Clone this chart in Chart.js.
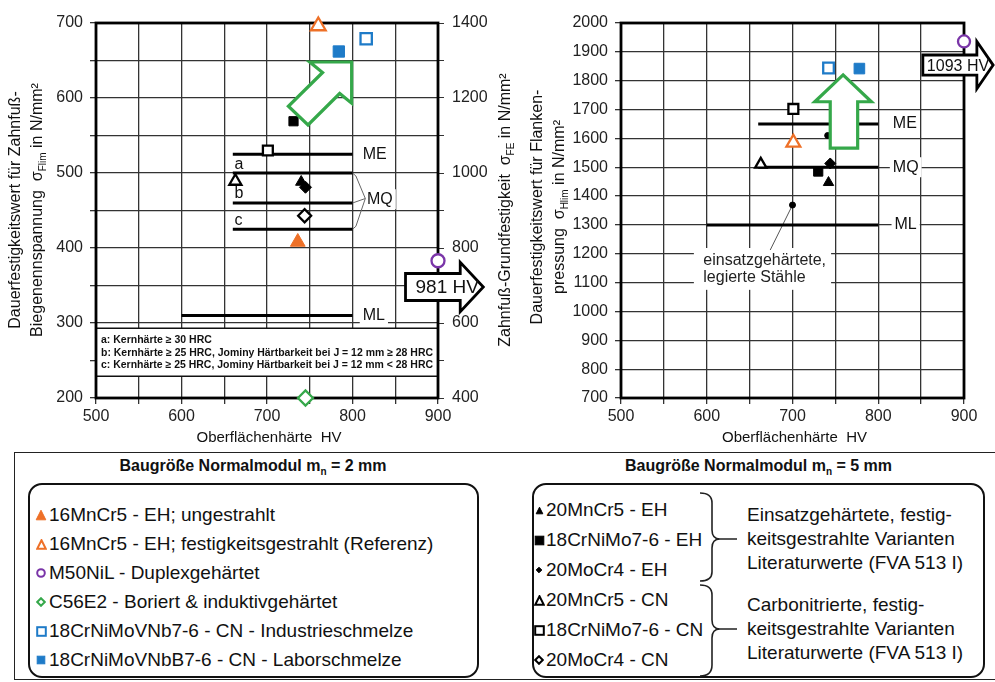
<!DOCTYPE html>
<html>
<head>
<meta charset="utf-8">
<script src="https://cdn.jsdelivr.net/npm/chart.js@4.4.1/dist/chart.umd.min.js"></script>
<style>
  body { margin: 0; background: #fff; width: 995px; height: 682px; overflow: hidden; position: relative;
         font-family: "Liberation Sans", Arial, sans-serif; color: #111; }
  canvas { position: absolute; top: 0; }
  #cFoot { left: 0; }
  #cFlank { left: 520px; }
  .box { position: absolute; box-sizing: border-box; }
  .outer { left: 14px; top: 452px; width: 1000px; height: 228px; border: 1.5px solid #222; }
  .inner { top: 483px; height: 195px; border: 2.5px solid #111; border-radius: 14px; }
  .hdr { position: absolute; top: 457px; font-weight: bold; font-size: 16px; text-align: center; }
  .hdr sub { font-size: 10px; }
  .item { position: absolute; font-size: 19px; line-height: 20px; white-space: nowrap; }
  .mk { position: absolute; }
  .mk svg { display: block; }
  .desc { position: absolute; font-size: 19px; line-height: 24px; white-space: nowrap; }
</style>
</head>
<body>
<canvas id="cFoot" width="520" height="450"></canvas>
<canvas id="cFlank" width="475" height="450"></canvas>
<div id="legend"></div>
<script>
// =============================================
// DATA
// =============================================
const materials = [
  '16MnCr5 - EH; ungestrahlt',
  '16MnCr5 - EH; festigkeitsgestrahlt (Referenz)',
  'M50NiL - Duplexgehärtet',
  'C56E2 - Boriert & induktivgehärtet',
  '18CrNiMoVNb7-6 - CN - Industrieschmelze',
  '18CrNiMoVNbB7-6 - CN - Laborschmelze',
  '20MnCr5 - EH',
  '18CrNiMo7-6 - EH',
  '20MoCr4 - EH',
  '20MnCr5 - CN',
  '18CrNiMo7-6 - CN',
  '20MoCr4 - CN'
];
// Zahnfuß (left chart)
const hvFoot    = [736, 760, 900, 745, 816, 784, 740, 731, 745, 663, 701, 744];
const sigmaFlim = [408, 696, 383, 200, 679, 662, 488, 569, 481, 489, 530, 443];
// Flanke (right chart)
const hvFlank   = [null, 701, 900, null, 742, 778, 742, 730, 744, 663, 701, null];
const sigmaHlim = [null, 1585, 1936, null, 1844, 1842, 1447, 1485, 1513, 1510, 1702, null];
// Literaturpunkte einsatzgehärtete, legierte Stähle
const litHv   = [700, 741];
const litHlim = [1369, 1610];

// Werkstoffqualitäten (Zahnfuß)
const footLineNames = ['ME', 'a', 'b', 'c', 'ML'];
const footLineY     = [525, 500, 460, 425, 310];
const footLineX0    = [660, 660, 660, 660, 600];
const footLineX1    = [800, 800, 800, 800, 800];
// Werkstoffqualitäten (Flanke)
const flankLineNames = ['ME', 'MQ', 'ML'];
const flankLineY     = [1650, 1500, 1300];
const flankLineX0    = [660, 660, 600];
const flankLineX1    = [800, 800, 800];

const footnotes = [
  'a: Kernhärte ≥ 30 HRC',
  'b: Kernhärte ≥ 25 HRC, Jominy Härtbarkeit bei J = 12 mm ≥ 28 HRC',
  'c: Kernhärte ≥ 25 HRC, Jominy Härtbarkeit bei J = 12 mm < 28 HRC'
];

// Pfeile (Datenkoordinaten)
const footArrowX = [862, 926, 953];      // Schaft links, Kopfbasis, Spitze
const footArrowY = [348, 18, 33];        // Mitte, halbe Schaftbreite, halbe Kopfbreite
const flankArrowX = [852, 915, 934];
const flankArrowY = [1854, 35, 82];
const footGreenX = [750, 799, 799, 785, 748, 725, 765];
const footGreenY = [648, 648, 593, 606, 564, 589, 634];
const flankGreenX = [759, 792, 776, 776, 744, 744, 726];
const flankGreenY = [1820, 1727, 1727, 1566, 1566, 1727, 1727];

// =============================================
// STYLES
// =============================================
const FONT = '"Liberation Sans", Arial, sans-serif';
const ORANGE = '#EE7027', BLUE = '#1E7BC8', PURPLE = '#7A35A8', GREEN = '#35A84A';
const mkShape  = ['triangle', 'triangle', 'circle', 'rectRot', 'rect', 'rect', 'triangle', 'rect', 'rectRot', 'triangle', 'rect', 'rectRot'];
const mkColor  = [ORANGE, ORANGE, PURPLE, GREEN, BLUE, BLUE, '#000', '#000', '#000', '#000', '#000', '#000'];
const mkFilled = [true, false, false, false, false, true, true, true, true, false, false, false];
const mkSizeL  = [8.5, 8.5, 6.5, 7.5, 8, 8, 6.5, 6.5, 6, 7, 7, 6.5];
const mkSizeR  = [8.5, 8, 6, 7, 7.5, 7.5, 6, 6.5, 5.5, 6.5, 7, 6];

function scatterSets(xs, ys, sizes) {
  const sets = [];
  materials.forEach((m, i) => {
    if (xs[i] == null) return;
    sets.push({
      label: m,
      data: [{ x: xs[i], y: ys[i] }],
      pointStyle: mkShape[i],
      pointRadius: sizes[i],
      pointBorderWidth: mkFilled[i] ? 1 : 2.3,
      pointBackgroundColor: mkFilled[i] ? mkColor[i] : '#fff',
      pointBorderColor: mkColor[i],
      clip: false,
      order: 1
    });
  });
  return sets;
}

function lineSets(y, x0, x1) {
  return y.map((v, i) => ({
    type: 'line',
    data: [{ x: x0[i], y: v }, { x: x1[i], y: v }],
    borderColor: '#000', borderWidth: 3, pointRadius: 0, order: 5
  }));
}

function axisX() {
  return {
    type: 'linear', min: 500, max: 900,
    ticks: { stepSize: 50, autoSkip: false, maxRotation: 0, padding: 3, color: '#222',
             font: { size: 16, family: FONT }, callback: v => v % 100 ? '' : String(v) },
    grid: { color: '#333', lineWidth: 1.3, tickLength: 6, tickColor: '#333' },
    border: { display: false },
    afterFit: s => { s.height = 52; }
  };
}

// =============================================
// DRAW HELPERS
// =============================================
function drawRich(ctx, parts, x, y, size, rot) {
  ctx.save();
  ctx.translate(x, y);
  ctx.rotate(rot);
  ctx.textBaseline = 'middle';
  ctx.textAlign = 'left';
  ctx.fillStyle = '#111';
  const fnt = p => (p[1] ? Math.round(size * 0.62) : size) + 'px ' + FONT;
  let total = 0;
  const ws = parts.map(p => { ctx.font = fnt(p); const w = ctx.measureText(p[0]).width; total += w; return w; });
  let cx = -total / 2;
  parts.forEach((p, i) => {
    ctx.font = fnt(p);
    ctx.fillText(p[0], cx, p[1] ? size * 0.3 : 0);
    cx += ws[i];
  });
  ctx.restore();
}

function labelBox(ctx, text, x, y, size) {
  ctx.font = size + 'px ' + FONT;
  const w = ctx.measureText(text).width;
  ctx.fillStyle = '#fff';
  ctx.fillRect(x - 3, y - size / 2 - 2, w + 6, size + 4);
  ctx.fillStyle = '#111';
  ctx.textAlign = 'left';
  ctx.textBaseline = 'middle';
  ctx.fillText(text, x, y);
}

function frame(ctx, a) {
  ctx.save();
  ctx.strokeStyle = '#000';
  ctx.lineWidth = 2.8;
  ctx.strokeRect(a.left, a.top, a.right - a.left, a.bottom - a.top);
  ctx.restore();
}

function hvArrow(ctx, sx, sy, ax, ay, text, size, dx) {
  const X = v => sx.getPixelForValue(v), Y = v => sy.getPixelForValue(v);
  ctx.save();
  ctx.beginPath();
  ctx.moveTo(X(ax[0]), Y(ay[0] + ay[1]));
  ctx.lineTo(X(ax[1]), Y(ay[0] + ay[1]));
  ctx.lineTo(X(ax[1]), Y(ay[0] + ay[2]));
  ctx.lineTo(X(ax[2]), Y(ay[0]));
  ctx.lineTo(X(ax[1]), Y(ay[0] - ay[2]));
  ctx.lineTo(X(ax[1]), Y(ay[0] - ay[1]));
  ctx.lineTo(X(ax[0]), Y(ay[0] - ay[1]));
  ctx.closePath();
  ctx.fillStyle = '#fff';
  ctx.fill();
  ctx.lineWidth = 2.8;
  ctx.strokeStyle = '#000';
  ctx.lineJoin = 'miter';
  ctx.stroke();
  ctx.fillStyle = '#111';
  ctx.font = size + 'px ' + FONT;
  ctx.textBaseline = 'middle';
  ctx.textAlign = 'left';
  ctx.fillText(text, X(ax[0]) + dx, Y(ay[0]) + 1);
  ctx.restore();
}

function greenArrow(ctx, sx, sy, xs, ys) {
  ctx.save();
  ctx.beginPath();
  xs.forEach((v, i) => {
    const px = sx.getPixelForValue(v), py = sy.getPixelForValue(ys[i]);
    i ? ctx.lineTo(px, py) : ctx.moveTo(px, py);
  });
  ctx.closePath();
  ctx.fillStyle = '#fff';
  ctx.fill();
  ctx.lineWidth = 3.2;
  ctx.strokeStyle = GREEN;
  ctx.lineJoin = 'miter';
  ctx.stroke();
  ctx.restore();
}

// =============================================
// ZAHNFUSS (LINKS)
// =============================================
const footDeco = {
  id: 'footDeco',
  beforeDatasetsDraw(chart) {
    const { ctx, chartArea: a, scales: { x, y } } = chart;
    // Fußnotenkasten
    const top = y.getPixelForValue(293), bot = y.getPixelForValue(229);
    ctx.save();
    ctx.fillStyle = '#fff';
    ctx.fillRect(a.left, top, a.right - a.left, bot - top);
    ctx.lineWidth = 1.5;
    ctx.strokeStyle = '#111';
    ctx.strokeRect(a.left, top, a.right - a.left, bot - top);
    ctx.fillStyle = '#111';
    ctx.font = 'bold 10.5px ' + FONT;
    ctx.textBaseline = 'middle';
    footnotes.forEach((t, i) => {
      const w = ctx.measureText(t).width, maxW = a.right - a.left - 10;
      ctx.save();
      ctx.translate(a.left + 5, top + 12 + i * 12.5);
      if (w > maxW) ctx.scale(maxW / w, 1);
      ctx.fillText(t, 0, 0);
      ctx.restore();
    });
    frame(ctx, a);
    // Beschriftungen
    labelBox(ctx, 'ME', x.getPixelForValue(812), y.getPixelForValue(525), 16);
    labelBox(ctx, 'MQ', x.getPixelForValue(817), y.getPixelForValue(465), 16);
    labelBox(ctx, 'ML', x.getPixelForValue(812), y.getPixelForValue(310), 16);
    ctx.font = '16px ' + FONT;
    ctx.fillStyle = '#111';
    ctx.fillText('a', x.getPixelForValue(662), y.getPixelForValue(511));
    ctx.fillText('b', x.getPixelForValue(662), y.getPixelForValue(472));
    ctx.fillText('c', x.getPixelForValue(662), y.getPixelForValue(436));
    // Klammer MQ
    ctx.strokeStyle = '#666';
    ctx.lineWidth = 1;
    ctx.beginPath();
    const P = (vx, vy) => [x.getPixelForValue(vx), y.getPixelForValue(vy)];
    [[[800, 500], [804, 496], [815, 466]], [[800, 460], [815, 466]], [[800, 425], [804, 429], [815, 466]]]
      .forEach(path => path.forEach((pt, i) => { const p = P(pt[0], pt[1]); i ? ctx.lineTo(p[0], p[1]) : ctx.moveTo(p[0], p[1]); }));
    ctx.stroke();
    ctx.restore();
  },
  afterDatasetsDraw(chart) {
    const { ctx, scales: { x, y } } = chart;
    greenArrow(ctx, x, y, footGreenX, footGreenY);
    hvArrow(ctx, x, y, footArrowX, footArrowY, '981 HV', 19, 10);
  },
  afterDraw(chart) {
    const { ctx, chartArea: a } = chart;
    const cy = 210;
    drawRich(ctx, [['Dauerfestigkeitswert für Zahnfuß-', 0]], 16, cy, 16, -Math.PI / 2);
    drawRich(ctx, [['Biegenennspannung  σ', 0], ['Flim', 1], [' in N/mm²', 0]], 38, cy, 16, -Math.PI / 2);
    drawRich(ctx, [['Zahnfuß-Grundfestigkeit  σ', 0], ['FE', 1], [' in N/mm²', 0]], 506, cy, 16, -Math.PI / 2);
    drawRich(ctx, [['Oberflächenhärte  HV', 0]], (a.left + a.right) / 2 + 2, 438, 15, 0);
  }
};

new Chart(document.getElementById('cFoot'), {
  type: 'scatter',
  data: { datasets: [...scatterSets(hvFoot, sigmaFlim, mkSizeL), ...lineSets(footLineY, footLineX0, footLineX1)] },
  options: {
    responsive: false, animation: false,
    layout: { padding: { top: 23, left: 0, right: 0, bottom: 0 } },
    plugins: { legend: { display: false }, tooltip: { enabled: false } },
    scales: {
      x: axisX(),
      y: {
        min: 200, max: 700,
        ticks: { stepSize: 50, padding: 7, color: '#222', font: { size: 16, family: FONT }, callback: v => v % 100 ? '' : String(v) },
        grid: { color: '#333', lineWidth: 1.3, tickLength: 6, tickColor: '#333' },
        border: { display: false },
        afterFit: s => { s.width = 96; }
      },
      y2: {
        position: 'right', min: 400, max: 1400,
        ticks: { stepSize: 100, padding: 8, color: '#222', font: { size: 16, family: FONT }, callback: v => v % 200 ? '' : String(v) },
        grid: { drawOnChartArea: false, tickLength: 6, tickColor: '#333' },
        border: { display: false },
        afterFit: s => { s.width = 82; }
      }
    }
  },
  plugins: [footDeco]
});

// =============================================
// FLANKE (RECHTS)
// =============================================
const flankDeco = {
  id: 'flankDeco',
  beforeDatasetsDraw(chart) {
    const { ctx, chartArea: a, scales: { x, y } } = chart;
    ctx.save();
    frame(ctx, a);
    labelBox(ctx, 'ME', x.getPixelForValue(817), y.getPixelForValue(1650), 16);
    labelBox(ctx, 'MQ', x.getPixelForValue(817), y.getPixelForValue(1500), 16);
    labelBox(ctx, 'ML', x.getPixelForValue(819), y.getPixelForValue(1300), 16);
    // Hinweis einsatzgehärtete Stähle
    const bx = x.getPixelForValue(585), by = y.getPixelForValue(1220);
    ctx.fillStyle = '#fff';
    ctx.fillRect(bx, by, x.getPixelForValue(745) - bx, y.getPixelForValue(1075) - by);
    ctx.fillStyle = '#222';
    ctx.font = '16px ' + FONT;
    ctx.textBaseline = 'middle';
    ctx.fillText('einsatzgehärtete,', x.getPixelForValue(596), y.getPixelForValue(1178));
    ctx.fillText('legierte Stähle', x.getPixelForValue(596), y.getPixelForValue(1116));
    ctx.strokeStyle = '#555';
    ctx.lineWidth = 1;
    ctx.beginPath();
    ctx.moveTo(x.getPixelForValue(litHv[0]), y.getPixelForValue(litHlim[0]));
    ctx.lineTo(x.getPixelForValue(674), y.getPixelForValue(1213));
    ctx.stroke();
    ctx.restore();
  },
  afterDatasetsDraw(chart) {
    const { ctx, scales: { x, y } } = chart;
    greenArrow(ctx, x, y, flankGreenX, flankGreenY);
    hvArrow(ctx, x, y, flankArrowX, flankArrowY, '1093 HV', 16, 4);
  },
  afterDraw(chart) {
    const { ctx, chartArea: a } = chart;
    const cy = 207;
    drawRich(ctx, [['Dauerfestigkeitswert für Flanken-', 0]], 18, cy, 16, -Math.PI / 2);
    drawRich(ctx, [['pressung  σ', 0], ['Hlim', 1], [' in N/mm²', 0]], 40, cy, 16, -Math.PI / 2);
    drawRich(ctx, [['Oberflächenhärte  HV', 0]], (a.left + a.right) / 2 + 2, 438, 15, 0);
  }
};

new Chart(document.getElementById('cFlank'), {
  type: 'scatter',
  data: {
    datasets: [
      ...scatterSets(hvFlank, sigmaHlim, mkSizeR),
      { label: 'Literatur', data: litHv.map((v, i) => ({ x: v, y: litHlim[i] })),
        pointRadius: 3, pointBackgroundColor: '#000', pointBorderColor: '#000', clip: false, order: 1 },
      ...lineSets(flankLineY, flankLineX0, flankLineX1)
    ]
  },
  options: {
    responsive: false, animation: false,
    layout: { padding: { top: 23, left: 0, right: 31, bottom: 0 } },
    plugins: { legend: { display: false }, tooltip: { enabled: false } },
    scales: {
      x: axisX(),
      y: {
        min: 700, max: 2000,
        ticks: { stepSize: 100, padding: 7, color: '#222', font: { size: 16, family: FONT }, callback: v => String(v) },
        grid: { color: '#333', lineWidth: 1.3, tickLength: 6, tickColor: '#333' },
        border: { display: false },
        afterFit: s => { s.width = 101; }
      }
    }
  },
  plugins: [flankDeco]
});

// =============================================
// LEGENDE
// =============================================
function markerSvg(i, s) {
  const c = mkColor[i], f = mkFilled[i] ? c : '#fff', sw = mkFilled[i] ? 1 : 2;
  const h = s / 2, p = 1.2;
  let el;
  if (mkShape[i] === 'triangle') el = `<polygon points="${h},${p} ${s - p},${s - p} ${p},${s - p}"`;
  else if (mkShape[i] === 'rect') el = `<rect x="${p}" y="${p}" width="${s - 2 * p}" height="${s - 2 * p}"`;
  else if (mkShape[i] === 'rectRot') el = `<polygon points="${h},${p} ${s - p},${h} ${h},${s - p} ${p},${h}"`;
  else el = `<circle cx="${h}" cy="${h}" r="${h - p}"`;
  return `<svg width="${s}" height="${s}">${el} fill="${f}" stroke="${c}" stroke-width="${sw}"/></svg>`;
}

const legSizes = [12, 11, 10, 10, 11, 10, 9, 11, 8, 11, 11, 10];
let html = '<div class="box outer"></div>' +
  '<div class="box inner" style="left:28px;width:451px"></div>' +
  '<div class="box inner" style="left:532px;width:453px"></div>' +
  '<div class="hdr" style="left:28px;width:450px">Baugröße Normalmodul m<sub>n</sub> = 2 mm</div>' +
  '<div class="hdr" style="left:532px;width:453px">Baugröße Normalmodul m<sub>n</sub> = 5 mm</div>';
materials.forEach((m, i) => {
  const right = i >= 6, k = right ? i - 6 : i;
  const cy = right ? 510 + k * 30 : 515 + k * 29;
  const mx = right ? 539 : 41, tx = right ? 546 : 49, s = legSizes[i];
  html += `<div class="mk" style="left:${mx - s / 2}px;top:${cy - s / 2}px">${markerSvg(i, s)}</div>`;
  html += `<div class="item" style="left:${tx}px;top:${cy - 10}px">${m}</div>`;
});
html += '<div class="desc" style="left:747px;top:503px">Einsatzgehärtete, festig-<br>keitsgestrahlte Varianten<br>Literaturwerte (FVA 513 I)</div>';
html += '<div class="desc" style="left:747px;top:593px">Carbonitrierte, festig-<br>keitsgestrahlte Varianten<br>Literaturwerte (FVA 513 I)</div>';
html += `<svg class="mk" style="left:0;top:0" width="995" height="682">
  <path d="M700,493 Q712,493 712,503 L712,530 Q712,539 720,539 Q712,539 712,548 L712,572 Q712,581 700,581
           M720,539 L737,539
           M700,585 Q712,585 712,595 L712,620 Q712,629 720,629 Q712,629 712,638 L712,665 Q712,676 700,676
           M720,629 L737,629" fill="none" stroke="#222" stroke-width="1.6"/></svg>`;
document.getElementById('legend').innerHTML = html;
</script>
</body>
</html>
